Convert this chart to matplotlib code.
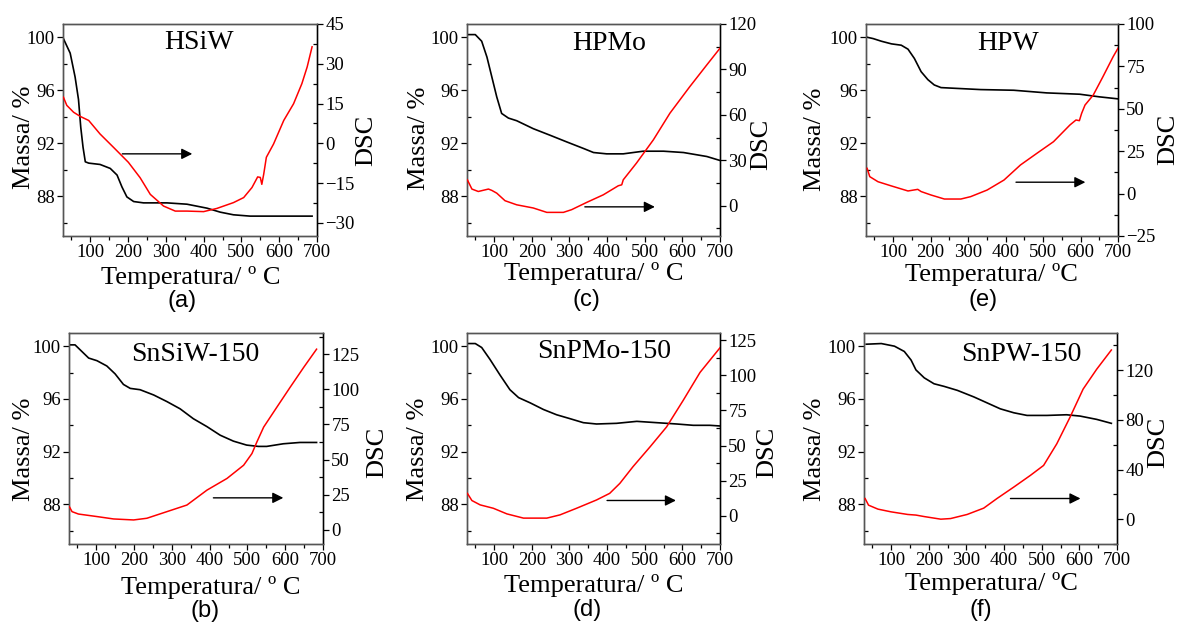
import numpy as np
import matplotlib
matplotlib.use("Agg")
import matplotlib.pyplot as plt
from matplotlib.ticker import MultipleLocator

plt.rcParams["font.family"] = ["Liberation Serif", "DejaVu Serif"]
plt.rcParams["mathtext.fontset"] = "stix"

# ---------------- data: TG (mass %) and DSC curves ----------------
# (a) HSiW
hsiw_tg_t = [29, 47, 60, 69, 75, 81, 87, 96, 126, 153, 171, 184, 197, 215, 241, 303, 356, 409, 444, 479, 523, 687]
hsiw_tg_m = [99.9, 98.8, 97.0, 95.3, 93.2, 91.7, 90.6, 90.5, 90.4, 90.1, 89.6, 88.7, 87.95, 87.6, 87.5, 87.5, 87.4, 87.1, 86.8, 86.6, 86.5, 86.5]
hsiw_dsc_t = [29, 38, 56, 74, 96, 126, 162, 201, 232, 259, 294, 325, 356, 400, 435, 479, 506, 528, 543, 550, 554, 559, 566, 585, 612, 638, 660, 674, 687]
hsiw_dsc_v = [17.4, 14.3, 11.7, 10.1, 8.6, 3.5, -1.6, -7.2, -13.0, -19.3, -23.7, -25.6, -25.6, -25.8, -24.6, -22.4, -20.5, -16.7, -12.7, -12.9, -15.5, -11.7, -5.3, -0.3, 8.6, 14.9, 22.5, 28.8, 36.4]

# (c) HPMo
hpmo_tg_t = [32, 50, 67, 81, 94, 107, 120, 138, 160, 204, 249, 293, 338, 364, 399, 443, 496, 550, 603, 665, 700]
hpmo_tg_m = [100.2, 100.2, 99.7, 98.5, 97.0, 95.5, 94.25, 93.9, 93.7, 93.1, 92.6, 92.1, 91.6, 91.3, 91.2, 91.2, 91.4, 91.4, 91.3, 91.0, 90.7]
hpmo_dsc_t = [29, 41, 58, 85, 94, 107, 129, 160, 204, 240, 284, 306, 346, 390, 430, 439, 443, 478, 523, 567, 620, 665, 700]
hpmo_dsc_v = [17.1, 11.0, 9.4, 11.0, 10.1, 8.3, 3.3, 0.6, -1.5, -4.4, -4.4, -2.6, 2.2, 7.2, 13.2, 13.8, 17.1, 28.1, 43.5, 61.1, 78.7, 93.0, 104.0]

# (e) HPW
hpw_tg_t = [31, 47, 69, 96, 122, 140, 157, 175, 193, 210, 228, 263, 334, 422, 510, 598, 651, 700]
hpw_tg_m = [100.0, 99.9, 99.7, 99.5, 99.4, 99.1, 98.4, 97.4, 96.8, 96.4, 96.2, 96.15, 96.05, 96.0, 95.8, 95.7, 95.5, 95.35]
hpw_dsc_t = [31, 38, 60, 96, 140, 166, 175, 201, 237, 281, 307, 351, 396, 440, 484, 528, 572, 588, 597, 603, 612, 634, 660, 687, 700]
hpw_dsc_v = [14.9, 10.0, 7.0, 4.5, 1.55, 2.5, 1.2, -0.8, -3.2, -3.2, -1.8, 2.1, 8.0, 16.9, 23.8, 30.6, 40.5, 43.4, 43.0, 47.3, 52.2, 58.1, 69.0, 80.7, 85.7]

# (b) SnSiW-150
snsiw_tg_t = [31, 44, 62, 80, 102, 128, 150, 172, 190, 216, 252, 287, 322, 357, 393, 428, 463, 498, 529, 551, 595, 639, 683]
snsiw_tg_m = [100.1, 100.1, 99.6, 99.1, 98.9, 98.5, 97.9, 97.1, 96.8, 96.7, 96.3, 95.8, 95.25, 94.5, 93.9, 93.25, 92.8, 92.5, 92.4, 92.4, 92.6, 92.7, 92.7]
snsiw_dsc_t = [29, 36, 53, 102, 146, 199, 234, 287, 340, 393, 446, 490, 512, 525, 543, 578, 613, 649, 683]
snsiw_dsc_v = [16.5, 13.0, 11.3, 9.5, 7.8, 7.1, 8.3, 13.0, 17.7, 28.3, 36.6, 46.0, 54.3, 62.5, 73.1, 87.3, 101.4, 115.6, 128.5]

# (d) SnPMo-150
snpmo_tg_t = [32, 50, 67, 89, 116, 142, 165, 196, 231, 266, 302, 337, 372, 425, 479, 532, 585, 629, 673, 700]
snpmo_tg_m = [100.2, 100.2, 99.9, 99.0, 97.8, 96.7, 96.1, 95.7, 95.2, 94.8, 94.5, 94.2, 94.1, 94.15, 94.3, 94.2, 94.1, 94.0, 94.0, 93.95]
snpmo_dsc_t = [29, 41, 63, 98, 134, 178, 240, 275, 319, 372, 407, 434, 469, 514, 558, 602, 647, 700]
snpmo_dsc_v = [16.0, 10.9, 7.8, 5.4, 1.4, -1.6, -1.6, 0.7, 5.4, 11.3, 16.0, 23.1, 35.0, 49.0, 63.2, 82.0, 102.0, 119.5]

# (f) SnPW-150
snpw_tg_t = [34, 74, 109, 135, 153, 166, 188, 214, 241, 276, 320, 355, 390, 426, 461, 514, 566, 602, 646, 685]
snpw_tg_m = [100.15, 100.2, 100.0, 99.6, 98.95, 98.2, 97.6, 97.15, 96.95, 96.65, 96.15, 95.7, 95.25, 94.95, 94.75, 94.75, 94.8, 94.7, 94.45, 94.15]
snpw_dsc_t = [31, 40, 65, 100, 144, 166, 188, 232, 258, 302, 346, 381, 426, 470, 505, 540, 575, 610, 646, 685]
snpw_dsc_v = [16.6, 11.3, 8.1, 5.9, 3.8, 3.3, 2.1, 0.0, 0.5, 3.8, 8.9, 16.6, 25.9, 35.3, 43.3, 60.7, 82.0, 104.8, 120.8, 136.3]

names = ["HSiW", "HPMo", "HPW", "SnSiW-150", "SnPMo-150", "SnPW-150"]
letters = ["(a)", "(c)", "(e)", "(b)", "(d)", "(f)"]
xlabels = ["Temperatura/ º C", "Temperatura/ º C", "Temperatura/ ºC",
           "Temperatura/ º C", "Temperatura/ º C", "Temperatura/ ºC"]
dsc_limits = [(-35, 45), (-20, 120), (-25, 100), (-10, 140), (-20, 130), (-20, 150)]
dsc_steps = [15, 30, 25, 25, 25, 40]
dsc_tick_max = [45, 120, 100, 125, 125, 120]
dsc_tick_min = [-30, 0, -25, 0, 0, 0]

curves = [
    (hsiw_tg_t, hsiw_tg_m, hsiw_dsc_t, hsiw_dsc_v),
    (hpmo_tg_t, hpmo_tg_m, hpmo_dsc_t, hpmo_dsc_v),
    (hpw_tg_t, hpw_tg_m, hpw_dsc_t, hpw_dsc_v),
    (snsiw_tg_t, snsiw_tg_m, snsiw_dsc_t, snsiw_dsc_v),
    (snpmo_tg_t, snpmo_tg_m, snpmo_dsc_t, snpmo_dsc_v),
    (snpw_tg_t, snpw_tg_m, snpw_dsc_t, snpw_dsc_v),
]

# arrow start/end (temperature) and height (mass axis)
arrows = [(185, 370, 91.2), (341, 527, 87.2), (428, 613, 89.06),
          (410, 595, 88.5), (400, 583, 88.3), (417, 603, 88.45)]

# ---------------- layout (pixels) ----------------
W, H = 1177, 626
boxes = [(63, 24, 254, 212), (467, 24, 253, 212), (866, 24, 252, 212),
         (69, 333, 254, 211), (467, 333, 253, 211), (864, 333, 253, 211)]
title_pos = [(0.535, 0.915), (0.561, 0.91), (0.563, 0.91),
             (0.496, 0.90), (0.543, 0.91), (0.62, 0.90)]
mass_lab = [(-0.154, 0.465), (-0.19, 0.462), (-0.202, 0.458),
            (-0.177, 0.45), (-0.194, 0.45), (-0.194, 0.45)]
dsc_lab = [(1.193, 0.45), (1.162, 0.434), (1.198, 0.458),
           (1.213, 0.436), (1.186, 0.436), (1.162, 0.483)]
xlab_pos = [(0.504, -0.198), (0.5, -0.175), (0.497, -0.18),
            (0.559, -0.204), (0.502, -0.195), (0.502, -0.185)]
letter_pos = [(0.47, -0.307), (0.474, -0.30), (0.466, -0.30),
              (0.535, -0.318), (0.474, -0.313), (0.463, -0.313)]

fig = plt.figure(figsize=(W / 100, H / 100), dpi=100)
spine_grey = "#555555"

for i in range(6):
    x0, y0, w, h = boxes[i]
    ax = fig.add_axes([x0 / W, 1 - (y0 + h) / H, w / W, h / H])
    ax2 = ax.twinx()
    tg_t, tg_m, dsc_t, dsc_v = curves[i]

    ax.plot(tg_t, tg_m, color="black", lw=1.2, zorder=3)
    ax2.plot(dsc_t, dsc_v, color="red", lw=1.1, zorder=3)

    ax.set_xlim(28, 700)
    ax.set_ylim(85, 101)
    ax.set_yticks([88, 92, 96, 100])
    ax.yaxis.set_minor_locator(MultipleLocator(2))
    ax.set_xticks([100, 200, 300, 400, 500, 600, 700])
    ax.xaxis.set_minor_locator(MultipleLocator(50))

    lo, hi = dsc_limits[i]
    ax2.set_ylim(lo, hi)
    st = dsc_steps[i]
    ax2.set_yticks(np.arange(dsc_tick_min[i], dsc_tick_max[i] + 1, st))
    ax2.yaxis.set_minor_locator(MultipleLocator(st / 2))

    for a in (ax, ax2):
        a.tick_params(axis="both", which="major", labelsize=13.5, length=4,
                      width=0.9, direction="out", pad=2)
        a.tick_params(axis="y", which="minor", length=3, width=0.9,
                      direction="in")
        a.tick_params(axis="x", which="minor", length=3, width=0.9,
                      direction="out")
        for s in a.spines.values():
            s.set_color(spine_grey)
            s.set_linewidth(1.0)
    ax2.spines["right"].set_color("black")
    ax.tick_params(axis="x", which="both", top=False)
    ax2.tick_params(axis="x", which="both", top=False)

    ax.set_ylabel("Massa/ %", fontsize=19)
    ax.yaxis.set_label_coords(*mass_lab[i])
    ax.yaxis.label.set_va("center")
    ax2.set_ylabel("DSC", fontsize=19)
    ax2.yaxis.set_label_coords(*dsc_lab[i])
    ax2.yaxis.label.set_va("center")
    ax.set_xlabel(xlabels[i], fontsize=19)
    ax.xaxis.set_label_coords(*xlab_pos[i])
    ax.xaxis.label.set_va("center")

    ax.text(*title_pos[i], names[i], transform=ax.transAxes, fontsize=20,
            ha="center", va="center")
    ax.text(*letter_pos[i], letters[i], transform=ax.transAxes, fontsize=17,
            ha="center", va="center",
            family=["Liberation Sans", "DejaVu Sans"])

    t0, t1, yy = arrows[i]
    ax.annotate("", xy=(t1, yy), xytext=(t0, yy),
                arrowprops=dict(arrowstyle="-|>", color="black", lw=1.0,
                                mutation_scale=16, shrinkA=0, shrinkB=0),
                zorder=4)

fig.savefig("out.png", dpi=100)
